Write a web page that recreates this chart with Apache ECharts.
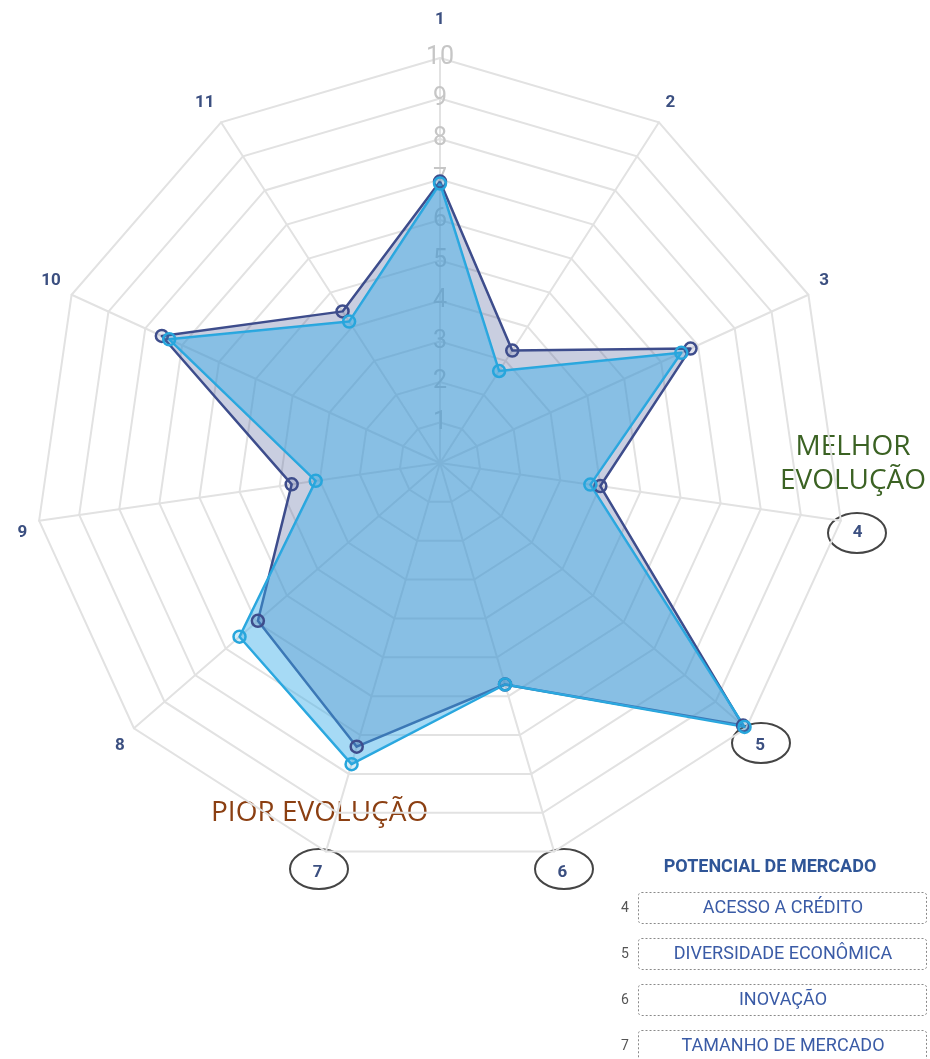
<!DOCTYPE html>
<html>
<head>
<meta charset="utf-8">
<script src="https://cdn.jsdelivr.net/npm/echarts@6/dist/echarts.min.js"></script>
<style>
  html, body { margin: 0; padding: 0; background: #fff; }
  #chart { width: 930px; height: 1059px; }
</style>
</head>
<body>
<div id="chart"></div>
<script>
// eixos do radar (1..11, sentido horário a partir do topo)
const axisNames = ["1", "2", "3", "4", "5", "6", "7", "8", "9", "10", "11"]
const upperAxes = ["2", "3", "10", "11"]
const lowerAxes = ["4", "5", "6", "7", "8", "9"]
// duas séries
const serieEscura = [6.95, 3.3, 6.8, 4.0, 9.9, 5.7, 7.3, 5.95, 3.7, 7.55, 4.45]
const serieClara = [6.9, 2.7, 6.55, 3.75, 9.95, 5.7, 7.75, 6.55, 3.1, 7.35, 4.15]
// quadro "potencial de mercado"
const legendTitle = "POTENCIAL DE MERCADO"
const legendNums = ["4", "5", "6", "7"]
const legendItems = ["ACESSO A CRÉDITO", "DIVERSIDADE ECONÔMICA", "INOVAÇÃO", "TAMANHO DE MERCADO"]
// elipses de destaque em volta dos eixos 4..7
const circleCenters = [[857, 533], [761, 743], [564, 869], [319, 869]]

const myChart = echarts.init(document.getElementById("chart"))

// radar do echarts gira anti-horário: inverte a ordem
const order = [0]
for (let i = axisNames.length - 1; i > 0; i --) order.push(i)

const indicators = order.map((i, k) => {
  const ind = { name: axisNames[i], max: 10, min: 0 }
  if (k === 0) {
    ind.axisLabel = {
      show: true, color: "#c6c6c6", fontSize: 25, fontFamily: "Roboto",
      align: "center", verticalAlign: "middle", margin: 0, showMinLabel: false
    }
    ind.nameGap = 30
  }
  return ind
})

const extraGraphics = []
circleCenters.forEach(c => {
  extraGraphics.push({
    type: "ellipse", shape: { cx: c[0], cy: c[1], rx: 29, ry: 20 },
    style: { fill: "none", stroke: "#454545", lineWidth: 2 }
  })
})
extraGraphics.push({
  type: "text", x: 770, y: 867,
  style: { text: legendTitle, fill: "#2f5597", font: "bold 18px Roboto", align: "center", verticalAlign: "middle" }
})
legendNums.forEach((n, i) => {
  const y = 892 + i * 46
  extraGraphics.push({
    type: "rect", shape: { x: 638.5, y: y + 0.5, width: 288, height: 31, r: 3 },
    style: { fill: "none", stroke: "#8a8a8a", lineWidth: 1, lineDash: [2, 2] }
  })
  extraGraphics.push({
    type: "text", x: 625, y: y + 16,
    style: { text: n, fill: "#555", font: "14px Roboto", align: "center", verticalAlign: "middle" }
  })
  extraGraphics.push({
    type: "text", x: 783, y: y + 16,
    style: { text: legendItems[i], fill: "#3a5ba6", font: "18px Roboto", align: "center", verticalAlign: "middle" }
  })
})

const nameStyle = { color: "#3b4f80", fontSize: 17, fontWeight: "bold", fontFamily: "Roboto" }

myChart.setOption({
  animation: false,
  radar: {
    center: [440, 463],
    radius: 405,
    startAngle: 90,
    shape: "polygon",
    splitNumber: 10,
    indicator: indicators,
    nameGap: 12,
    axisName: {
      formatter: (name) => {
        if (upperAxes.indexOf(name) >= 0) return "{u|" + name + "}"
        if (lowerAxes.indexOf(name) >= 0) return "{d|" + name + "}"
        return "{n|" + name + "}"
      },
      rich: {
        n: nameStyle,
        u: Object.assign({ padding: [0, 0, 18, 0] }, nameStyle),
        d: Object.assign({ padding: [20, 0, 0, 0] }, nameStyle)
      }
    },
    axisLabel: { show: false },
    axisTick: { show: false },
    axisLine: { lineStyle: { color: "#e2e2e2", width: 2 } },
    splitLine: { lineStyle: { color: "#e2e2e2", width: 2 } },
    splitArea: { show: false }
  },
  graphic: [
    {
      type: "text", x: 853, y: 430,
      style: { text: "MELHOR\nEVOLUÇÃO", fill: "#3b6223", font: "28px 'Open Sans'", lineHeight: 34, align: "center", verticalAlign: "top" }
    },
    {
      type: "text", x: 211, y: 813,
      style: { text: "PIOR EVOLUÇÃO", fill: "#8b3f12", font: "28px 'Open Sans'", verticalAlign: "middle" }
    }
  ].concat(extraGraphics),
  series: [{
    type: "radar",
    symbol: "circle",
    symbolSize: 12,
    data: [
      {
        value: order.map(i => serieEscura[i]),
        lineStyle: { color: "#3e4d8c", width: 2.5 },
        itemStyle: { color: "rgba(62,77,140,0.15)", borderColor: "#3e4d8c", borderWidth: 2.5 },
        areaStyle: { color: "#3d4f8f", opacity: 0.28 }
      },
      {
        value: order.map(i => serieClara[i]),
        lineStyle: { color: "#27a6dc", width: 2.5 },
        itemStyle: { color: "rgba(39,166,220,0.2)", borderColor: "#27a6dc", borderWidth: 2.5 },
        areaStyle: { color: "#3aaee8", opacity: 0.45 }
      }
    ]
  }]
})
</script>
</body>
</html>
